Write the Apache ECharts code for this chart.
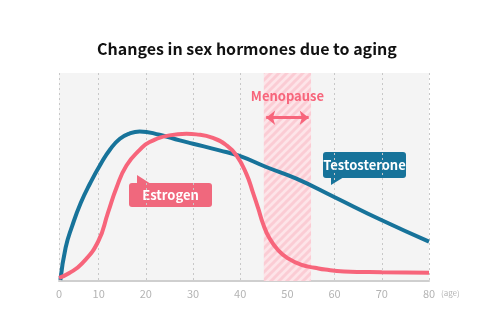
<!DOCTYPE html>
<html><head><meta charset="utf-8">
<script src="https://cdn.jsdelivr.net/npm/echarts@6/dist/echarts.min.js"></script>
<style>html,body{margin:0;padding:0;background:#fff}#c{width:500px;height:332px}</style>
</head><body><div id="c"></div>
<script>
const chartTitle = 'Changes in sex hormones due to aging';
const tickAges = [1.6, 10, 20, 30, 40, 50, 60, 70, 80];
const tickLabels = ['0', '10', '20', '30', '40', '50', '60', '70', '80'];
const testosteroneAge   = [1.9, 3.0, 4.4, 6.2, 8.2, 10.5, 12.5, 14.5, 16.5, 18.7, 22.9, 27.2, 30, 35.6, 40, 45.5, 51.9, 59.8, 69.9, 80];
const testosteroneLevel = [0.5, 16.0, 26.5, 37.5, 47.0, 56.5, 63.5, 68.4, 70.9, 71.9, 70.3, 67.6, 66.0, 62.8, 60.0, 54.8, 49.2, 40.5, 29.3, 18.9];
const estrogenAge   = [1.6, 3.7, 6.5, 9.9, 12.0, 13.8, 15.9, 18.7, 20.8, 25, 28.6, 30.7, 34.2, 37.1, 39.2, 41.3, 42.7, 43.8, 44.8, 46.2, 48.0, 50.1, 53.0, 55.8, 58, 62, 70, 80];
const estrogenLevel = [1.5, 3.7, 8.5, 19.0, 33.0, 45.0, 55.5, 63.0, 66.8, 70.0, 70.8, 70.5, 68.8, 65.2, 60.4, 51.5, 42.5, 35.0, 27.7, 20.5, 14.9, 10.9, 7.7, 6.4, 5.5, 4.6, 4.2, 4.0];
const menopauseRange = [45, 55];
const menopauseArrowLevel = 78.5;

const BLUE = '#17739a', PINK = '#f7657b', FONT = '"Noto Sans CJK JP", "Noto Sans", sans-serif';

function stripePattern() {
  const c = document.createElement('canvas'); c.width = 8; c.height = 8;
  const g = c.getContext('2d');
  g.fillStyle = '#fde4e8'; g.fillRect(0, 0, 8, 8);
  g.strokeStyle = '#fbccd4'; g.lineWidth = 3;
  g.beginPath();
  g.moveTo(-2, 10); g.lineTo(10, -2);
  g.moveTo(-2, 2); g.lineTo(2, -2);
  g.moveTo(6, 10); g.lineTo(10, 6);
  g.stroke();
  return c;
}

const chart = echarts.init(document.getElementById('c'), null, {renderer: 'canvas'});
chart.setOption({
  animation: false,
  backgroundColor: '#fff',
  title: {text: chartTitle, left: 92, top: 36,
    textStyle: {fontSize: 16, fontWeight: 'bold', color: '#111', fontFamily: FONT}},
  grid: {left: 59, right: 71, top: 73, bottom: 51, show: true, backgroundColor: '#f4f4f4', borderWidth: 0},
  xAxis: {
    type: 'value', min: tickAges[0], max: 80,
    axisLine: {lineStyle: {color: '#cfcfcf', width: 2}},
    axisTick: {show: false, customValues: tickAges},
    axisLabel: {customValues: tickAges, formatter: v => tickLabels[tickAges.indexOf(v)],
      color: '#b4b4b4', fontSize: 11, margin: 7, fontFamily: FONT},
    splitLine: {show: true, lineStyle: {type: [2, 3], color: '#c8c8c8', width: 1}},
    name: '(age)', nameLocation: 'end', nameGap: 5,
    nameTextStyle: {fontSize: 8, color: '#b4b4b4', verticalAlign: 'top', padding: [8, 0, 0, 0], fontFamily: FONT}
  },
  yAxis: {type: 'value', min: 0, max: 100, show: false},
  series: [
    {
      type: 'line', data: [], z: 1,
      markArea: {silent: true,
        itemStyle: {color: {image: stripePattern(), repeat: 'repeat'}},
        label: {show: true, position: 'insideTop', distance: 17, color: PINK, fontSize: 13, fontWeight: 'bold', fontFamily: FONT, formatter: 'Menopause'},
        data: [[{xAxis: menopauseRange[0]}, {xAxis: menopauseRange[1]}]]},
      markLine: {silent: true, symbol: ['arrow', 'arrow'], symbolSize: [11, 9],
        lineStyle: {color: PINK, width: 3, type: 'solid'}, label: {show: false},
        data: [[{coord: [menopauseRange[0] + 0.5, menopauseArrowLevel]}, {coord: [menopauseRange[1] - 0.5, menopauseArrowLevel]}]]}
    },
    {
      name: 'Testosterone', type: 'line', z: 3, smooth: 0.5, showSymbol: false,
      lineStyle: {color: BLUE, width: 4}, itemStyle: {color: BLUE},
      data: testosteroneAge.map((a, i) => [a, testosteroneLevel[i]])
    },
    {
      name: 'Estrogen', type: 'line', z: 4, smooth: 0.5, showSymbol: false,
      lineStyle: {color: PINK, width: 4}, itemStyle: {color: PINK},
      data: estrogenAge.map((a, i) => [a, estrogenLevel[i]])
    }
  ],
  graphic: [
    {type: 'group', z: 100, children: [
      {type: 'polygon', shape: {points: [[137, 175], [137, 184], [151, 184]]}, style: {fill: '#f0687d'}},
      {type: 'rect', shape: {x: 129, y: 183, width: 83, height: 24, r: 3}, style: {fill: '#f0687d'}},
      {type: 'text', x: 170.5, y: 195, style: {text: 'Estrogen', fill: '#fff', font: 'bold 13px ' + FONT, align: 'center', verticalAlign: 'middle'}}
    ]},
    {type: 'group', z: 100, children: [
      {type: 'polygon', shape: {points: [[331, 185], [331, 177], [344, 177]]}, style: {fill: BLUE}},
      {type: 'rect', shape: {x: 323, y: 152, width: 83, height: 26, r: 3}, style: {fill: BLUE}},
      {type: 'text', x: 364.5, y: 165, style: {text: 'Testosterone', fill: '#fff', font: 'bold 13px ' + FONT, align: 'center', verticalAlign: 'middle'}}
    ]}
  ]
});
</script></body></html>
